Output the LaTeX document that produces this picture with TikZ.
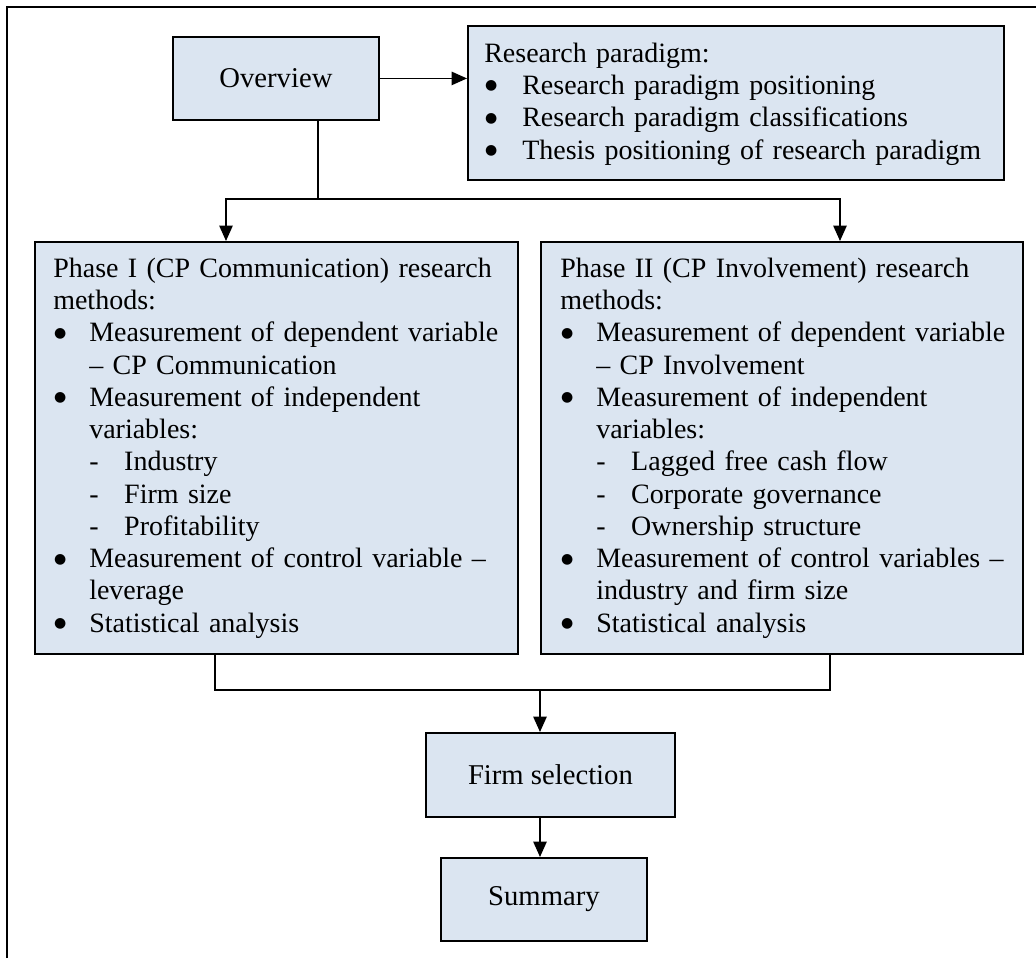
\documentclass[tikz,border=0pt]{standalone}
\usepackage{fontspec}
\setmainfont{Liberation Serif}
\newfontfamily\symfont{DejaVu Sans}
\usetikzlibrary{arrows.meta}

\definecolor{boxfill}{HTML}{DBE5F1}

% list helpers: bullet item, continuation line, dashed sub-item
\newcommand\bigbullet{\raisebox{3.5pt}{\symfont\fontsize{10.5}{10.5}\selectfont ●}}
\newcommand\bitem[2][27pt]{\makebox[#1][l]{\hspace{0.6pt}\bigbullet}#2}
\newcommand\cont[2][27pt]{\hspace*{#1}#2}
\newcommand\subi[1]{\hspace*{27pt}\makebox[26.25pt][l]{-}#1}
\newcommand\firstline{\noindent\rule{0pt}{16pt}}

\tikzset{
  panel/.style={draw=black, line width=1.4pt, fill=boxfill, inner sep=0pt,
                anchor=north west, font=\fontsize{21.5}{24.2}\selectfont},
  bodytext/.style={anchor=north west, inner sep=0pt, align=left,
                   font=\fontsize{21}{24.2}\selectfont},
  link/.style={line width=1.1pt},
  flow/.style={link, -{Triangle[length=11.5pt, width=10pt]}},
  frame/.style={line width=1.5pt},
}

\begin{document}
\begin{tikzpicture}[x=0.75pt, y=-0.75pt]
  \useasboundingbox (0,0) rectangle (1036,958);

  % open page frame
  \draw[frame] (7,958) -- (7,7) -- (1036,7);

  % boxes
  \node[panel, minimum width=154.5pt, minimum height=62.25pt] (ov) at (172,36) {Overview};
  \node[panel, minimum width=402pt, minimum height=115.5pt] (rp) at (467,25) {};
  \node[panel, minimum width=362.25pt, minimum height=309pt] (ph1) at (34,241) {};
  \node[panel, minimum width=361.5pt, minimum height=309pt] (ph2) at (540,241) {};
  \node[panel, minimum width=186.75pt, minimum height=63pt] (fs) at (425,732) {Firm selection};
  \node[panel, minimum width=154.5pt, minimum height=62.25pt] (sum) at (440,857) {Summary};

  % box contents
  \node[bodytext, text width=383pt] (rptext) at (484,40.7) {%
    \firstline Research paradigm:\\
    \bitem[28.5pt]{Research paradigm positioning}\\
    \bitem[28.5pt]{Research paradigm classifications}\\
    \bitem[28.5pt]{Thesis positioning of research paradigm}};

  \node[bodytext, text width=345pt] (ph1text) at (53,255.7) {%
    \firstline Phase I (CP Communication) research\\
    methods:\\
    \bitem{Measurement of dependent variable}\\
    \cont{– CP Communication}\\
    \bitem{Measurement of independent}\\
    \cont{variables:}\\
    \subi{Industry}\\
    \subi{Firm size}\\
    \subi{Profitability}\\
    \bitem{Measurement of control variable –}\\
    \cont{leverage}\\
    \bitem{Statistical analysis}};

  \node[bodytext, text width=337.5pt] (ph2text) at (560,255.7) {%
    \firstline Phase II (CP Involvement) research\\
    methods:\\
    \bitem{Measurement of dependent variable}\\
    \cont{– CP Involvement}\\
    \bitem{Measurement of independent}\\
    \cont{variables:}\\
    \subi{Lagged free cash flow}\\
    \subi{Corporate governance}\\
    \subi{Ownership structure}\\
    \bitem{Measurement of control variables –}\\
    \cont{industry and firm size}\\
    \bitem{Statistical analysis}};

  % junction points of the connectors
  \coordinate (splitc) at (318,199);
  \coordinate (splitl) at (226,199);
  \coordinate (splitr) at (840,199);
  \coordinate (mergel) at (215,690);
  \coordinate (merger) at (830,690);
  \coordinate (mergec) at (540,690);

  % connectors
  \draw[flow] (ov.east) -- (ov.east -| rp.west);
  \draw[link] (ov.south -| splitc) -- (splitc);
  \draw[flow] (splitc) -- (splitl) -- (splitl |- ph1.north);
  \draw[flow] (splitc) -- (splitr) -- (splitr |- ph2.north);
  \draw[link] (ph1.south -| mergel) -- (mergel) -- (merger) -- (ph2.south -| merger);
  \draw[flow] (mergec) -- (fs.north -| mergec);
  \draw[flow] (fs.south -| mergec) -- (sum.north -| mergec);
\end{tikzpicture}
\end{document}
